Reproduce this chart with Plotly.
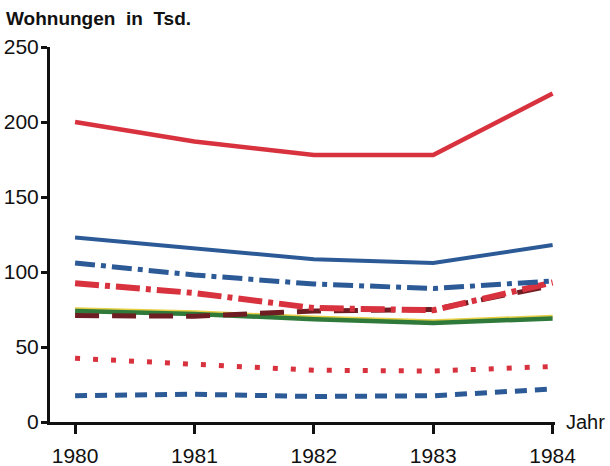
import plotly.graph_objects as go

years = [1980, 1981, 1982, 1983, 1984]

red_solid = [200, 187, 178, 178, 219]
blue_solid = [123, 116, 108.5, 106, 118]
blue_dashdot = [106, 98, 92, 89, 94]
red_dashdot = [92.5, 86, 76, 74.5, 93]
yellow_solid = [75.5, 73.5, 70, 67.5, 70.5]
green_solid = [74, 72, 68.5, 66, 69]
darkred_dash = [71, 70.5, 74, 75, 91]
red_dotted = [42.5, 38.5, 34.5, 34, 37]
blue_dashed = [17.5, 18.5, 17, 17.5, 22]

y_ticks = [0, 50, 100, 150, 200, 250]
x_labels = ["1980", "1981", "1982", "1983", "1984"]

RED = "#d8323f"
BLUE = "#2c5a96"
GREEN = "#2f7a3a"
YELLOW = "#e6cf45"
DARKRED = "#6e1e22"

series = [
    (blue_dashed, BLUE, 5, "12px,8px"),
    (red_dotted, RED, 5, "5px,13px"),
    (yellow_solid, YELLOW, 3, "solid"),
    (green_solid, GREEN, 4.5, "solid"),
    (darkred_dash, DARKRED, 5, "24px,13px"),
    (red_dashdot, RED, 6, "24px,6px,5px,6px"),
    (blue_dashdot, BLUE, 5, "20px,6px,5px,6px"),
    (blue_solid, BLUE, 4, "solid"),
    (red_solid, RED, 4.5, "solid"),
]

fig = go.Figure()
for vals, color, width, dash in series:
    fig.add_trace(go.Scatter(
        x=years, y=vals, mode="lines",
        line=dict(color=color, width=width, dash=dash),
        hoverinfo="skip", showlegend=False,
    ))

axis_font = dict(family="Liberation Sans, Arial, sans-serif", size=21, color="#111111")

fig.update_xaxes(
    range=[1979.79, 1984.02],
    tickvals=years, ticktext=x_labels,
    showline=True, linecolor="#111111", linewidth=3,
    ticks="outside", ticklen=9, tickwidth=3, tickcolor="#111111",
    showgrid=False, zeroline=False, tickfont=axis_font, automargin=False,
    ticklabelstandoff=4,
)
fig.update_yaxes(
    range=[0, 250],
    tickvals=y_ticks,
    showline=True, linecolor="#111111", linewidth=3,
    ticks="outside", ticklen=6, tickwidth=3, tickcolor="#111111",
    showgrid=False, zeroline=False, tickfont=axis_font, automargin=False,
    ticklabelstandoff=-2,
)

fig.add_annotation(
    text="Jahr", xref="paper", yref="paper",
    x=1.017, y=0.0, xanchor="left", yanchor="middle", showarrow=False,
    font=dict(family="Liberation Sans, Arial, sans-serif", size=20, color="#111111"),
)

fig.update_layout(
    width=610, height=466,
    margin=dict(l=50, r=55, t=47, b=44),
    plot_bgcolor="white", paper_bgcolor="white",
    title=dict(
        text="Wohnungen&nbsp; in&nbsp; Tsd.", xref="container", yref="container",
        x=6 / 610, y=1 - 18 / 466, xanchor="left", yanchor="middle",
        font=dict(family="Liberation Sans, Arial, sans-serif", size=19, color="#111111", weight="bold"),
    ),
)

fig.write_html("out.html")
